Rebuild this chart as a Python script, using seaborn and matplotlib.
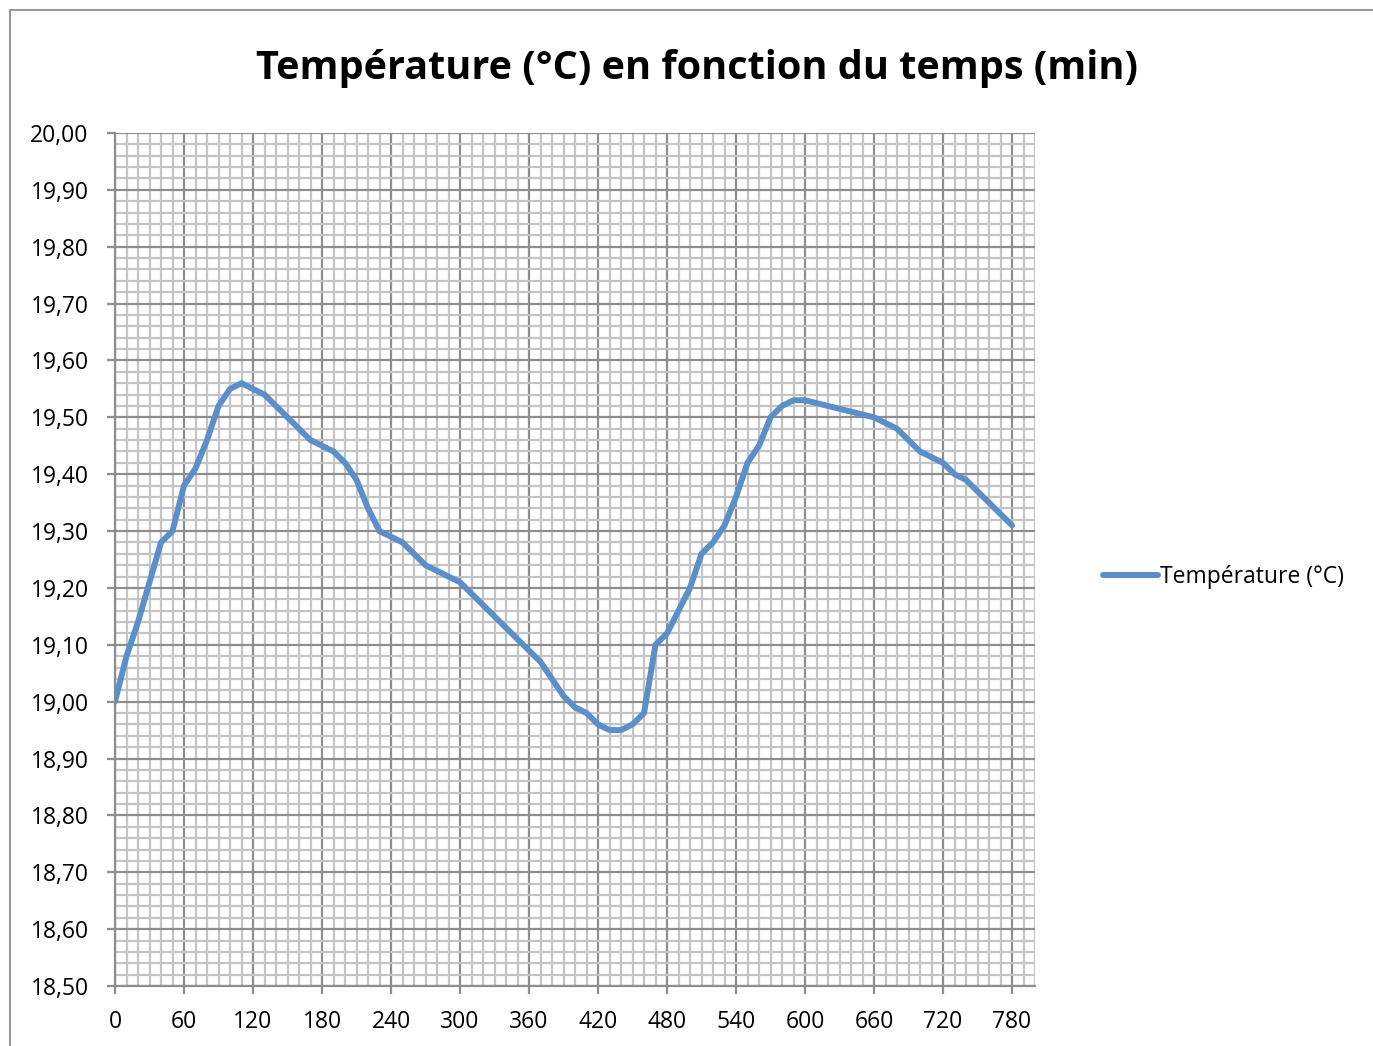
import numpy as np
import pandas as pd
import matplotlib
matplotlib.use("Agg")
import matplotlib.pyplot as plt
import matplotlib.ticker as ticker
from matplotlib.patches import Rectangle
import seaborn as sns

# temps (min) et températures
temps = list(range(0, 790, 10))
temperature = [
    19.00, 19.08, 19.14, 19.21, 19.28, 19.30, 19.38, 19.41, 19.46, 19.52,
    19.55, 19.56, 19.55, 19.54, 19.52, 19.50, 19.48, 19.46, 19.45, 19.44,
    19.42, 19.39, 19.34, 19.30, 19.29, 19.28, 19.26, 19.24, 19.23, 19.22,
    19.21, 19.19, 19.17, 19.15, 19.13, 19.11, 19.09, 19.07, 19.04, 19.01,
    18.99, 18.98, 18.96, 18.95, 18.95, 18.96, 18.98, 19.10, 19.12, 19.16,
    19.20, 19.26, 19.28, 19.31, 19.36, 19.42, 19.45, 19.50, 19.52, 19.53,
    19.53, 19.525, 19.52, 19.515, 19.51, 19.505, 19.50, 19.49, 19.48, 19.46,
    19.44, 19.43, 19.42, 19.40, 19.39, 19.37, 19.35, 19.33, 19.31,
]
serie = "Température (°C)"
titre = "Température (°C) en fonction du temps (min)"

df = pd.DataFrame({"temps": temps, "temperature": temperature})

sns.set_style("white")
plt.rcParams["font.family"] = ["Open Sans", "DejaVu Sans"]
plt.rcParams["text.color"] = "black"

fig = plt.figure(figsize=(13.73, 10.46), dpi=100)
ax = fig.add_axes([115 / 1373, 1 - 986 / 1046, 920 / 1373, 853 / 1046])

sns.lineplot(data=df, x="temps", y="temperature", ax=ax, color="#5b8fc9",
             linewidth=4.3, label=serie, zorder=5,
             solid_joinstyle="round", solid_capstyle="round")

ax.set_xlim(0, 800)
ax.set_ylim(18.5, 20.0)
ax.xaxis.set_major_locator(ticker.FixedLocator(list(range(0, 781, 60))))
ax.xaxis.set_minor_locator(ticker.MultipleLocator(10))
ax.yaxis.set_major_locator(ticker.MultipleLocator(0.1))
ax.yaxis.set_minor_locator(ticker.MultipleLocator(0.02))
ax.yaxis.set_major_formatter(ticker.FuncFormatter(lambda v, p: f"{v:.2f}".replace(".", ",")))

ax.grid(which="minor", color="#c4c4c4", linewidth=1.6, zorder=0)
ax.grid(which="major", color="#8e8e8e", linewidth=1.6, zorder=1)
ax.set_axisbelow(True)

for s in ["top", "right"]:
    ax.spines[s].set_visible(False)
for s in ["left", "bottom"]:
    ax.spines[s].set_color("#8e8e8e")
    ax.spines[s].set_linewidth(1.6)

ax.tick_params(which="major", length=6, width=1.6, color="#8e8e8e", labelsize=16.5,
               labelcolor="black", direction="out", left=True, bottom=True)
ax.tick_params(axis="y", pad=13)
ax.tick_params(axis="x", pad=11)
ax.tick_params(which="minor", length=0)
ax.set_xlabel("")
ax.set_ylabel("")

leg = ax.legend(loc="center left", bbox_to_anchor=(1.074, 0.48), frameon=False,
                fontsize=16.5, handlelength=2.4, handletextpad=0.1, borderpad=0,
                borderaxespad=0)
for t in leg.get_texts():
    t.set_color("black")

fig.text(697 / 1373, 1 - 69 / 1046, titre, ha="center", va="center",
         fontsize=28.5, fontweight="bold", color="black")

fig.patches.append(Rectangle((10 / 1373, -0.05), 1.1, 1 - 10 / 1046 + 0.05,
                             transform=fig.transFigure, fill=False,
                             edgecolor="#9a9a9a", linewidth=1.5))

fig.savefig("out.png", dpi=100)
